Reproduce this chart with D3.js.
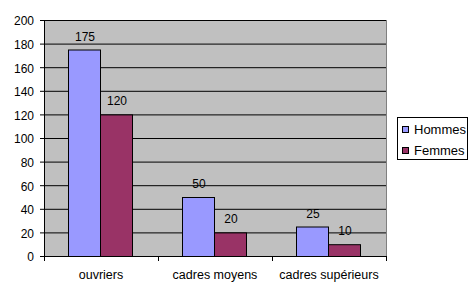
<!DOCTYPE html>
<meta charset="utf-8">
<style>
body { margin: 0; background: #fff; }
text { font-family: Arial, "Liberation Sans", sans-serif; font-size: 12px; fill: #000; }
</style>
<svg width="472" height="293"></svg>
<script src="https://d3js.org/d3.v7.min.js"></script>
<script>
var categories = ["ouvriers", "cadres moyens", "cadres supérieurs"];
var series = ["Hommes", "Femmes"];
var hommes = [175, 50, 25];
var femmes = [120, 20, 10];
var yTicks = [0, 20, 40, 60, 80, 100, 120, 140, 160, 180, 200];
var colors = ["#9999ff", "#993366"];

var svg = d3.select("svg");
var margin = {top: 20, right: 86, bottom: 37, left: 44};
var width = 472 - margin.left - margin.right;
var height = 293 - margin.top - margin.bottom;

var g = svg.append("g").attr("transform", "translate(" + margin.left + "," + margin.top + ")");

var x = d3.scaleBand().domain(categories).range([0, width]).paddingInner(0).paddingOuter(0);
var xs = d3.scaleBand().domain(series).range([24, x.bandwidth() - 26]);
var y = d3.scaleLinear().domain([0, 200]).range([height, 0]);

// plot background
g.append("rect")
    .attr("width", width)
    .attr("height", height)
    .attr("fill", "#c0c0c0");

// gridlines
g.selectAll(".grid")
    .data(yTicks.slice(1))
    .enter().append("line")
    .attr("x1", 0)
    .attr("x2", width)
    .attr("y1", function(d) { return y(d) + 0.5; })
    .attr("y2", function(d) { return y(d) + 0.5; })
    .attr("stroke", "#000");

// right edge of plot
g.append("line")
    .attr("x1", width + 0.5).attr("x2", width + 0.5)
    .attr("y1", 0).attr("y2", height)
    .attr("stroke", "#808080");

var data = categories.map(function(c, i) {
    return {cat: c, values: [{s: "Hommes", v: hommes[i]}, {s: "Femmes", v: femmes[i]}]};
});

var groups = g.selectAll(".cat")
    .data(data)
    .enter().append("g")
    .attr("transform", function(d) { return "translate(" + x(d.cat) + ",0)"; });

groups.selectAll("rect")
    .data(function(d) { return d.values; })
    .enter().append("rect")
    .attr("x", function(d) { return xs(d.s) + 0.5; })
    .attr("y", function(d) { return y(d.v) + 0.5; })
    .attr("width", xs.bandwidth())
    .attr("height", function(d) { return height - y(d.v); })
    .attr("fill", function(d, i) { return colors[i]; })
    .attr("stroke", "#000");

groups.selectAll(".lbl")
    .data(function(d) { return d.values; })
    .enter().append("text")
    .attr("x", function(d) { return xs(d.s) + xs.bandwidth() / 2 + 1; })
    .attr("y", function(d) { return y(d.v) - 9; })
    .attr("text-anchor", "middle")
    .text(function(d) { return d.v; });

// y axis
var yAxis = g.append("g")
    .call(d3.axisLeft(y).tickValues(yTicks).tickSize(4).tickPadding(6));
yAxis.select(".domain").attr("stroke", "#000");
yAxis.selectAll("text").style("font-size", "12px").attr("dy", "0.4em");

// x axis
var xAxis = g.append("g")
    .attr("transform", "translate(0," + height + ")");
xAxis.append("line")
    .attr("x1", 0).attr("x2", width)
    .attr("y1", 0.5).attr("y2", 0.5)
    .attr("stroke", "#000");
xAxis.selectAll(".tk")
    .data([0].concat(categories.map(function(c) { return x(c) + x.bandwidth(); })))
    .enter().append("line")
    .attr("x1", function(d) { return d + 0.5; })
    .attr("x2", function(d) { return d + 0.5; })
    .attr("y1", 0).attr("y2", 5)
    .attr("stroke", "#000");
xAxis.selectAll(".xl")
    .data(categories)
    .enter().append("text")
    .attr("x", function(d) { return x(d) + x.bandwidth() / 2; })
    .attr("y", 23)
    .attr("text-anchor", "middle")
    .style("font-size", "12.5px")
    .text(function(d) { return d; });

// legend
var legend = svg.append("g").attr("transform", "translate(397,117)");
legend.append("rect")
    .attr("x", 0.5).attr("y", 0.5)
    .attr("width", 70).attr("height", 42)
    .attr("fill", "#fff").attr("stroke", "#000");
var li = legend.selectAll(".li")
    .data(series)
    .enter().append("g")
    .attr("transform", function(d, i) { return "translate(5," + (9 + i * 21) + ")"; });
li.append("rect")
    .attr("x", 0.5).attr("y", 0.5)
    .attr("width", 6).attr("height", 6)
    .attr("fill", function(d, i) { return colors[i]; })
    .attr("stroke", "#000");
li.append("text")
    .attr("x", 12)
    .attr("y", 8)
    .style("font-size", "13px")
    .text(function(d) { return d; });
</script>
